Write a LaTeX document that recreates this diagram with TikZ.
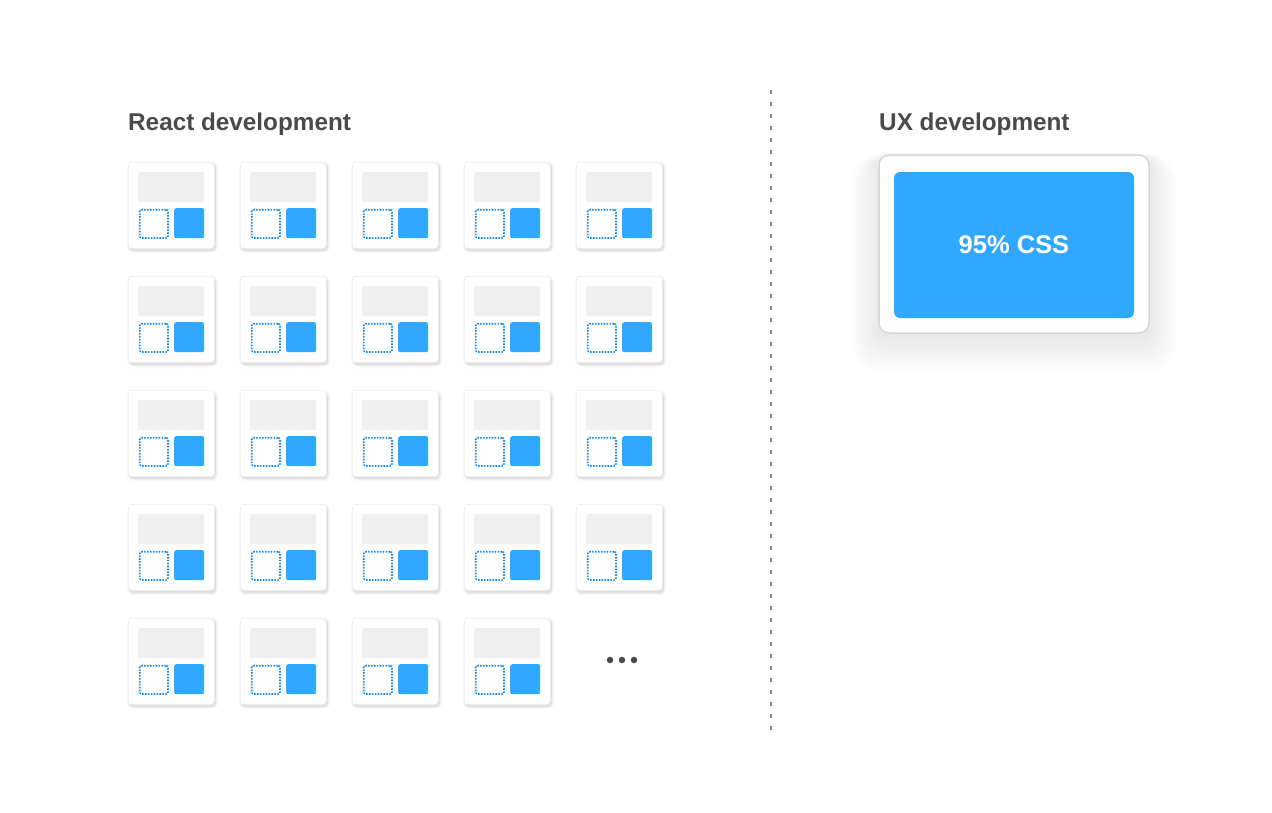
\documentclass[tikz,border=0pt]{standalone}
\usepackage{fontspec}
\setmainfont{Liberation Sans}
\definecolor{bluefill}{HTML}{30A8FF}
\definecolor{dotblue}{HTML}{168AEA}
\definecolor{barfill}{HTML}{EFEFEF}
\definecolor{cardline}{HTML}{EDEDED}
\definecolor{titlecol}{HTML}{4A4A4A}
\definecolor{divcol}{HTML}{858585}
\definecolor{uxline}{HTML}{D6D6D6}
\tikzset{
  card/.style={draw=cardline, line width=0.6pt, fill=white, rounded corners=3pt,
    minimum width=86pt, minimum height=86pt, inner sep=0pt},
  bar/.style={fill=barfill, rounded corners=2pt, minimum width=66pt, minimum height=30pt, inner sep=0pt},
  dotbox/.style={draw=dotblue, line width=1.7pt, dash pattern=on 1.6pt off 1.3pt,
    rounded corners=2pt, minimum width=28.3pt, minimum height=28.3pt, inner sep=0pt},
  bluebox/.style={fill=bluefill, rounded corners=2pt, minimum width=30pt, minimum height=30pt, inner sep=0pt},
  title/.style={text=titlecol, font=\fontsize{24.3}{28}\selectfont\bfseries, inner sep=0pt},
  dotnode/.style={circle, fill=titlecol, minimum size=6.5pt, inner sep=0pt},
  divider/.style={draw=divcol, line width=1.8pt, dash pattern=on 3.5pt off 8.5pt},
  uxbox/.style={draw=uxline, line width=1.5pt, fill=white, rounded corners=10pt,
    minimum width=270pt, minimum height=178pt, inner sep=0pt},
  uxinner/.style={fill=bluefill, rounded corners=6pt, minimum width=240pt, minimum height=146pt,
    inner sep=0pt, text=white, font=\fontsize{25.5}{30}\selectfont\bfseries},
}
\begin{document}
\begin{tikzpicture}[x=1pt,y=-1pt]
\useasboundingbox[fill=white] (0,0) rectangle (1272,812);
% titles
\node[title, anchor=base west] (tReact) at (128,130) {React development};
\node[title, anchor=base west] (tUX) at (879,130) {UX development};
% cards
\foreach \r/\n in {0/4,1/4,2/4,3/4,4/3} {
  \foreach \c in {0,...,\n} {
    \pgfmathsetmacro\X{128+112*\c}
    \pgfmathsetmacro\Y{162+114*\r}
    \fill[black, opacity=0.025, rounded corners=6pt] (\X-1,\Y) rectangle (\X+90,\Y+91);
    \fill[black, opacity=0.04, rounded corners=5pt] (\X,\Y+1) rectangle (\X+89,\Y+90);
    \fill[black, opacity=0.06, rounded corners=4pt] (\X+1,\Y+2) rectangle (\X+88,\Y+89);
    \node[card, anchor=north west] (card-\r-\c) at (\X,\Y) {};
    \node[bar, anchor=north west] (bar-\r-\c) at ([shift={(10,10)}]card-\r-\c.north west) {};
    \node[dotbox, anchor=north west] (dot-\r-\c) at ([shift={(10.85,46.85)}]card-\r-\c.north west) {};
    \node[bluebox, anchor=north west] (blue-\r-\c) at ([shift={(46,46)}]card-\r-\c.north west) {};
  }
}
% ellipsis
\node[dotnode] (d1) at (610,660) {};
\node[dotnode] (d2) at (622,660) {};
\node[dotnode] (d3) at (634,660) {};
% divider
\coordinate (divTop) at (771,90);
\coordinate (divBot) at (771,735);
\draw[divider] (divTop) -- (divBot);
% UX box shadow (soft)
\foreach \i in {1,...,22} {
  \fill[black, opacity=0.0028, rounded corners=10pt+\i pt]
    (879-\i*1.3,155+4-\i*0.3) rectangle (1149+\i*1.3,333+4+\i*1.7);
}
\node[uxbox] (ux) at (1014,244) {};
\node[uxinner] (css) at (1014,245) {95\% CSS};
\end{tikzpicture}
\end{document}
